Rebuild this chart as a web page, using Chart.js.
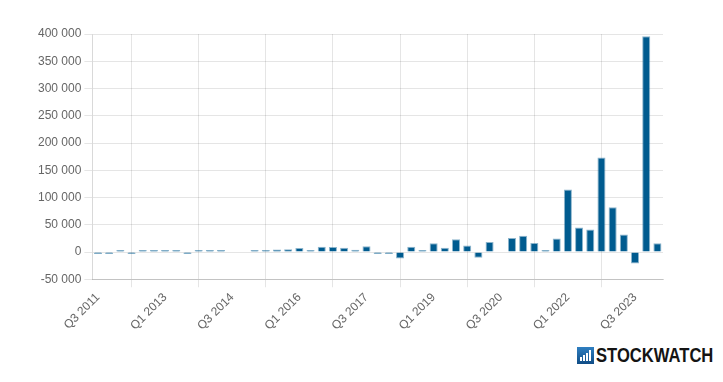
<!DOCTYPE html>
<html>
<head>
<meta charset="utf-8">
<script src="https://cdn.jsdelivr.net/npm/chart.js@4"></script>
<style>
  html, body { margin: 0; padding: 0; background: #fff; }
  #wrap { position: relative; width: 723px; height: 382px; overflow: hidden; }
  #box { position: absolute; left: 0; top: 0; width: 723px; height: 336px; }
  #logo { position: absolute; left: 577px; top: 345px; height: 20px; display: flex; align-items: center; }
  #icon { width: 17px; height: 17px; background: linear-gradient(#2f7fc1, #104d86); position: relative; margin-right: 2px; flex: none; }
  #icon span { position: absolute; bottom: 3px; width: 2px; background: #fff; }
  #word { font-family: "Liberation Sans", Arial, sans-serif; font-weight: bold; font-size: 21px; color: #141414; line-height: 20px; transform: scaleX(0.79); transform-origin: left center; white-space: nowrap; }
</style>
</head>
<body>
<div id="wrap">
  <div id="box"><canvas id="c"></canvas></div>
  <div id="logo">
    <div id="icon">
      <span style="left:3px;height:4px"></span>
      <span style="left:6px;height:6px"></span>
      <span style="left:9px;height:8px"></span>
      <span style="left:12px;height:11px"></span>
    </div>
    <div id="word">STOCKWATCH</div>
  </div>
</div>
<script>
const categories = [
  'Q3 2011','Q4 2011','Q1 2012','Q2 2012','Q3 2012','Q4 2012',
  'Q1 2013','Q2 2013','Q3 2013','Q4 2013','Q1 2014','Q2 2014',
  'Q3 2014','Q4 2014','Q1 2015','Q2 2015','Q3 2015','Q4 2015',
  'Q1 2016','Q2 2016','Q3 2016','Q4 2016','Q1 2017','Q2 2017',
  'Q3 2017','Q4 2017','Q1 2018','Q2 2018','Q3 2018','Q4 2018',
  'Q1 2019','Q2 2019','Q3 2019','Q4 2019','Q1 2020','Q2 2020',
  'Q3 2020','Q4 2020','Q1 2021','Q2 2021','Q3 2021','Q4 2021',
  'Q1 2022','Q2 2022','Q3 2022','Q4 2022','Q1 2023','Q2 2023',
  'Q3 2023','Q4 2023','Q1 2024'
];
const values = [
  -600, -500, 300, -400, 700, 1200,
  1000, 300, -500, 900, 800, 1800,
  null, null, 1000, 900, 4500, 5000,
  7500, 2500, 9500, 9000, 8000, 4000,
  10500, -400, -1500, -12000, 9500, 1500,
  16000, 8000, 23500, 12000, -10500, 18500,
  null, 25500, 30000, 16500, 3500, 25000,
  114500, 45000, 41500, 173500, 82000, 32000,
  -21000, 396000, 16000
];
const yMin = -50000, yMax = 400000, yStep = 50000;
const labelEvery = 6;

function fmt(v) {
  const s = Math.abs(v).toString().replace(/\B(?=(\d{3})+(?!\d))/g, ' ');
  return (v < 0 ? '-' : '') + s;
}

Chart.defaults.font.family = "'Helvetica Neue', Helvetica, Arial, 'Liberation Sans', sans-serif";
Chart.defaults.font.size = 12;
Chart.defaults.color = '#666';

new Chart(document.getElementById('c'), {
  type: 'bar',
  data: {
    labels: categories,
    datasets: [{
      data: values,
      backgroundColor: '#005b8f',
      borderColor: 'rgba(0,91,143,0.45)',
      borderWidth: 1,
      minBarLength: 2
    }]
  },
  options: {
    responsive: true,
    maintainAspectRatio: false,
    animation: false,
    layout: { padding: { left: 35, right: 60, top: 34, bottom: 0 } },
    plugins: { legend: { display: false }, tooltip: { enabled: false } },
    scales: {
      x: {
        grid: {
          offset: false,
          color: (ctx) => (ctx.index % labelEvery === 3 ? 'rgba(0,0,0,0.1)' : 'rgba(0,0,0,0)'),
          tickLength: 8
        },
        border: { display: true, color: 'rgba(0,0,0,0.15)' },
        ticks: {
          autoSkip: false,
          minRotation: 45,
          maxRotation: 45,
          callback: function (v, i) { return i % labelEvery === 0 ? categories[i] : ''; }
        }
      },
      y: {
        min: yMin,
        max: yMax,
        grid: { color: 'rgba(0,0,0,0.1)', tickLength: 8 },
        border: { display: true, color: 'rgba(0,0,0,0.15)' },
        ticks: { stepSize: yStep, callback: (v) => fmt(v) }
      }
    }
  }
});
</script>
</body>
</html>
